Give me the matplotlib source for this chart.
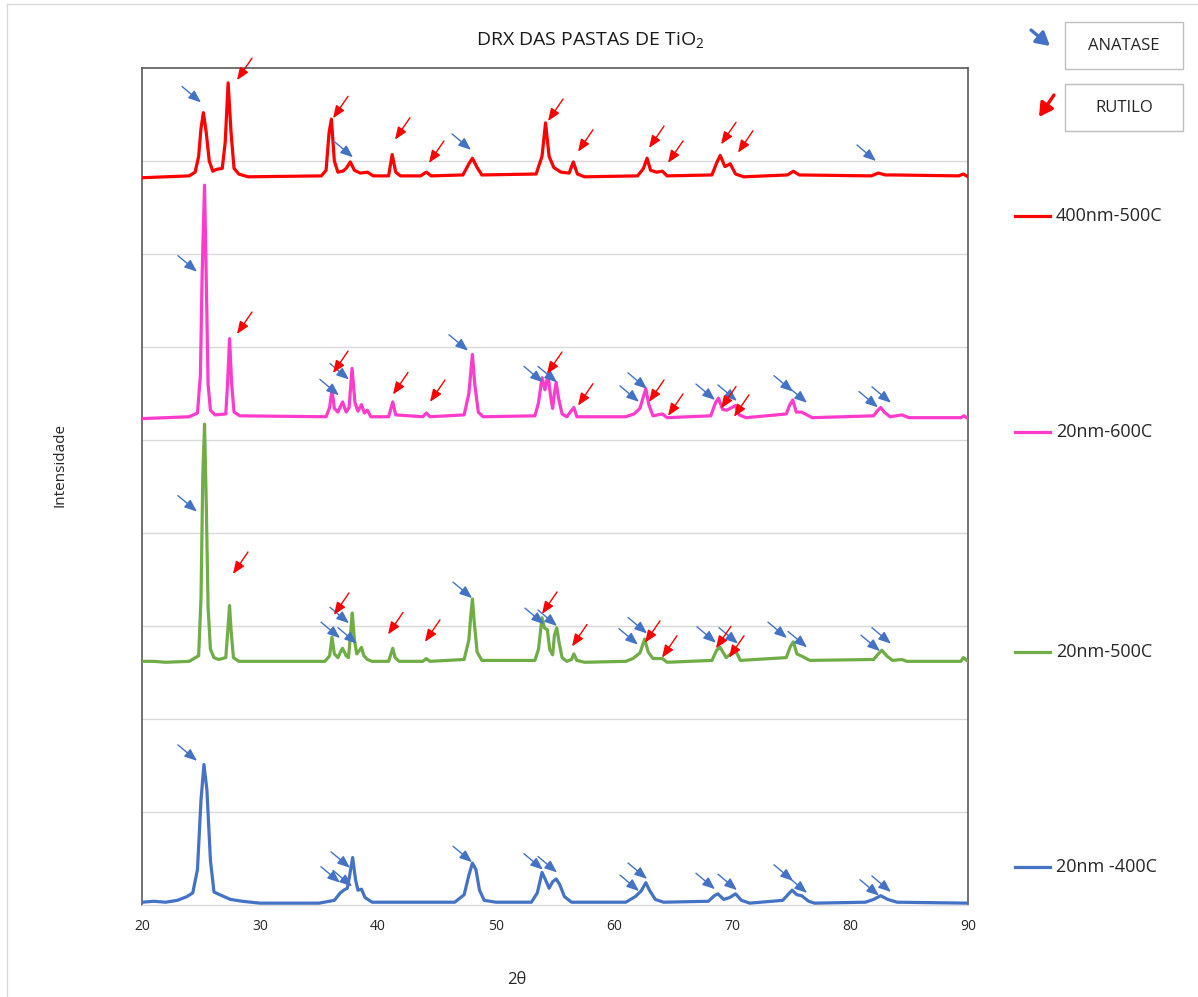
import matplotlib
matplotlib.use("Agg")
import matplotlib.pyplot as plt
from matplotlib.patches import Rectangle, FancyArrowPatch
from matplotlib.lines import Line2D

plt.rcParams['font.family'] = ['Open Sans', 'DejaVu Sans']
plt.rcParams['mathtext.default'] = 'regular'

# ---------------------------------------------------------------
# Diffractograms (2θ in degrees, intensity in a.u. x 10^3, stacked)
# ---------------------------------------------------------------
tt_400nm_500c = [20.0, 22.0, 24.0, 24.5, 24.8, 25.0, 25.2, 25.45, 25.7, 26.0, 26.3, 26.8,
                 27.05, 27.3, 27.55, 27.8, 28.2, 29.0, 35.2, 35.6, 35.85, 36.05, 36.3, 36.6,
                 37.0, 37.3, 37.65, 38.0, 38.5, 39.1, 39.6, 40.9, 41.2, 41.5, 41.9, 43.6,
                 44.1, 44.5, 47.2, 47.7, 48.0, 48.4, 48.8, 53.4, 53.9, 54.2, 54.5, 54.9,
                 55.5, 56.2, 56.55, 56.9, 57.5, 62.0, 62.5, 62.8, 63.1, 63.6, 64.1, 64.5,
                 68.3, 68.7, 69.0, 69.4, 69.85, 70.3, 71.0, 74.7, 75.2, 75.7, 81.8, 82.4,
                 83.0, 83.6, 89.2, 89.6, 90.0]
int_400nm_500c = [7.82, 7.83, 7.84, 7.88, 8.05, 8.35, 8.52, 8.30, 8.00, 7.89, 7.91, 7.92,
                  8.20, 8.84, 8.30, 7.92, 7.86, 7.83, 7.84, 7.90, 8.30, 8.45, 8.00, 7.88,
                  7.89, 7.92, 7.99, 7.90, 7.87, 7.88, 7.84, 7.84, 8.07, 7.88, 7.84, 7.84,
                  7.88, 7.84, 7.85, 7.97, 8.03, 7.93, 7.85, 7.86, 8.05, 8.41, 8.05, 7.93,
                  7.88, 7.87, 7.99, 7.86, 7.83, 7.84, 7.92, 8.03, 7.90, 7.88, 7.89, 7.84,
                  7.85, 7.98, 8.06, 7.94, 7.97, 7.86, 7.83, 7.85, 7.89, 7.85, 7.84, 7.87,
                  7.85, 7.85, 7.84, 7.86, 7.83]

tt_20nm_600c = [20.0, 22.0, 24.0, 24.7, 24.95, 25.1, 25.3, 25.45, 25.6, 25.8, 26.2, 27.1,
                27.25, 27.42, 27.6, 27.8, 28.3, 35.6, 35.9, 36.1, 36.3, 36.6, 37.0, 37.3,
                37.55, 37.8, 38.05, 38.3, 38.6, 38.85, 39.1, 39.4, 40.9, 41.25, 41.5, 43.8,
                44.1, 44.4, 47.3, 47.7, 48.0, 48.2, 48.5, 48.9, 53.3, 53.6, 53.9, 54.15,
                54.4, 54.65, 54.8, 54.95, 55.1, 55.3, 55.6, 56.0, 56.6, 56.85, 61.0, 61.7,
                62.2, 62.45, 62.7, 62.95, 63.3, 64.1, 64.5, 68.2, 68.6, 68.85, 69.2, 69.55,
                70.3, 70.6, 71.2, 74.6, 74.9, 75.15, 75.45, 75.9, 76.2, 76.8, 82.0, 82.3,
                82.6, 82.9, 83.4, 84.4, 85.0, 89.4, 89.65, 90.0]
int_20nm_600c = [5.23, 5.24, 5.25, 5.29, 5.70, 6.80, 7.74, 6.70, 5.60, 5.32, 5.27, 5.28,
                 5.60, 6.09, 5.60, 5.30, 5.26, 5.25, 5.35, 5.54, 5.34, 5.30, 5.41, 5.30,
                 5.35, 5.77, 5.40, 5.31, 5.38, 5.29, 5.32, 5.25, 5.25, 5.41, 5.27, 5.25,
                 5.29, 5.25, 5.27, 5.50, 5.92, 5.60, 5.30, 5.25, 5.26, 5.40, 5.67, 5.54,
                 5.70, 5.45, 5.34, 5.50, 5.62, 5.45, 5.28, 5.25, 5.35, 5.25, 5.25, 5.28,
                 5.34, 5.45, 5.55, 5.38, 5.26, 5.28, 5.24, 5.26, 5.40, 5.45, 5.33, 5.32,
                 5.37, 5.27, 5.24, 5.28, 5.38, 5.43, 5.30, 5.30, 5.28, 5.24, 5.26, 5.31,
                 5.35, 5.30, 5.25, 5.27, 5.24, 5.24, 5.26, 5.23]

tt_20nm_500c = [20.0, 21.0, 22.0, 24.0, 24.8, 25.0, 25.15, 25.3, 25.45, 25.6, 25.8, 26.1,
                26.5, 27.1, 27.3, 27.42, 27.55, 27.75, 28.2, 35.5, 35.9, 36.1, 36.3, 36.6,
                36.9, 37.0, 37.3, 37.5, 37.7, 37.82, 38.0, 38.2, 38.5, 38.6, 38.8, 39.1,
                39.5, 40.9, 41.1, 41.25, 41.45, 41.8, 43.8, 44.1, 44.4, 47.3, 47.7, 47.85,
                48.0, 48.15, 48.4, 48.8, 53.3, 53.6, 53.9, 54.1, 54.35, 54.55, 54.8, 54.95,
                55.15, 55.35, 55.6, 56.0, 56.4, 56.6, 56.85, 57.5, 61.0, 61.6, 62.2, 62.6,
                62.9, 63.3, 64.1, 64.5, 68.3, 68.7, 69.0, 69.5, 70.3, 70.7, 74.6, 74.95,
                75.2, 75.5, 76.0, 76.6, 82.0, 82.4, 82.7, 83.1, 83.6, 84.4, 84.8, 89.4,
                89.6, 90.0]
int_20nm_500c = [2.62, 2.62, 2.61, 2.62, 2.68, 3.30, 4.60, 5.17, 4.30, 3.20, 2.75, 2.66,
                 2.64, 2.66, 3.00, 3.22, 2.95, 2.66, 2.62, 2.62, 2.68, 2.88, 2.70, 2.66,
                 2.74, 2.76, 2.68, 2.66, 2.95, 3.14, 2.85, 2.70, 2.75, 2.77, 2.68, 2.64,
                 2.62, 2.62, 2.70, 2.76, 2.66, 2.62, 2.62, 2.65, 2.62, 2.64, 2.85, 3.09,
                 3.29, 3.05, 2.72, 2.63, 2.63, 2.75, 3.09, 2.98, 2.96, 2.75, 2.69, 2.90,
                 2.98, 2.82, 2.66, 2.62, 2.64, 2.70, 2.63, 2.61, 2.62, 2.65, 2.71, 2.86,
                 2.72, 2.65, 2.65, 2.61, 2.63, 2.74, 2.77, 2.66, 2.74, 2.63, 2.66, 2.78,
                 2.83, 2.70, 2.67, 2.63, 2.64, 2.70, 2.74, 2.68, 2.63, 2.64, 2.62, 2.62,
                 2.66, 2.62]

tt_20nm_400c = [20.0, 21.0, 22.0, 23.0, 23.8, 24.3, 24.7, 25.0, 25.25, 25.5, 25.8, 26.1,
                26.6, 27.5, 28.5, 30.0, 35.0, 36.3, 36.8, 37.1, 37.4, 37.6, 37.85, 38.1,
                38.3, 38.6, 38.9, 39.5, 46.5, 47.3, 47.7, 48.0, 48.3, 48.6, 49.0, 50.0,
                53.0, 53.5, 53.9, 54.2, 54.5, 54.8, 55.1, 55.4, 55.8, 56.4, 61.0, 61.8,
                62.3, 62.7, 63.0, 63.5, 64.2, 68.0, 68.5, 68.8, 69.3, 69.8, 70.3, 70.8,
                71.5, 74.3, 74.8, 75.1, 75.5, 75.9, 76.5, 77.0, 81.3, 82.0, 82.6, 83.2,
                84.0, 90.0]
int_20nm_400c = [0.03, 0.04, 0.03, 0.05, 0.09, 0.13, 0.38, 1.13, 1.51, 1.24, 0.48, 0.14,
                 0.11, 0.06, 0.04, 0.02, 0.02, 0.05, 0.13, 0.16, 0.18, 0.32, 0.51, 0.27,
                 0.16, 0.17, 0.08, 0.03, 0.03, 0.11, 0.32, 0.45, 0.38, 0.16, 0.05, 0.03,
                 0.03, 0.13, 0.35, 0.27, 0.18, 0.25, 0.28, 0.22, 0.09, 0.03, 0.03, 0.09,
                 0.15, 0.24, 0.16, 0.06, 0.03, 0.04, 0.10, 0.12, 0.06, 0.08, 0.12, 0.05,
                 0.02, 0.05, 0.12, 0.16, 0.11, 0.10, 0.04, 0.02, 0.03, 0.06, 0.10, 0.06,
                 0.03, 0.02]

# ---------------------------------------------------------------
# Phase identification marks (2θ, intensity at arrow tip)
# ---------------------------------------------------------------
anatase_400nm_500c = [(25.0, 8.63), (37.88, 8.04), (47.88, 8.12), (82.20, 8.00)]
rutile_400nm_500c = [(28.05, 8.87), (36.19, 8.46), (41.44, 8.23), (44.32, 7.98),
                     (54.41, 8.43), (56.95, 8.10), (62.97, 8.14), (64.58, 7.98),
                     (69.07, 8.18), (70.51, 8.09)]

anatase_20nm_600c = [(24.66, 6.81), (37.54, 5.65), (36.69, 5.48), (47.63, 5.96),
                     (53.98, 5.62), (55.17, 5.62), (62.12, 5.41), (62.80, 5.55),
                     (68.56, 5.43), (70.42, 5.42), (75.17, 5.52), (76.36, 5.40),
                     (82.37, 5.35), (83.47, 5.40)]
rutile_20nm_600c = [(28.05, 6.14), (36.19, 5.72), (41.27, 5.49), (44.41, 5.41),
                    (54.32, 5.71), (56.95, 5.37), (62.97, 5.41), (64.58, 5.26),
                    (69.07, 5.34), (70.17, 5.25)]

anatase_20nm_500c = [(24.66, 4.23), (37.54, 3.03), (36.78, 2.87), (38.22, 2.81),
                     (47.97, 3.30), (54.07, 3.02), (55.17, 3.00), (62.03, 2.80),
                     (62.80, 2.92), (68.64, 2.82), (70.51, 2.81), (74.66, 2.87),
                     (76.36, 2.77), (82.54, 2.73), (83.47, 2.81)]
rutile_20nm_500c = [(27.71, 3.56), (36.27, 3.12), (40.85, 2.91), (43.98, 2.83),
                    (53.90, 3.13), (56.44, 2.78), (62.63, 2.82), (64.07, 2.66),
                    (68.64, 2.76), (69.75, 2.66)]

anatase_20nm_400c = [(24.66, 1.55), (36.78, 0.24), (37.80, 0.20), (37.63, 0.40),
                     (47.97, 0.46), (53.98, 0.38), (55.17, 0.35), (62.12, 0.15),
                     (62.80, 0.28), (68.56, 0.17), (70.42, 0.16), (75.17, 0.26),
                     (76.36, 0.13), (82.46, 0.10), (83.47, 0.14)]
rutile_20nm_400c = []

series_labels = ["400nm-500C", "20nm-600C", "20nm-500C", "20nm -400C"]
series_colors = ["#FF0000", "#FF3BCB", "#70AD47", "#4472C4"]
series_x = [tt_400nm_500c, tt_20nm_600c, tt_20nm_500c, tt_20nm_400c]
series_y = [int_400nm_500c, int_20nm_600c, int_20nm_500c, int_20nm_400c]
anatase_marks = [anatase_400nm_500c, anatase_20nm_600c, anatase_20nm_500c, anatase_20nm_400c]
rutile_marks = [rutile_400nm_500c, rutile_20nm_600c, rutile_20nm_500c, rutile_20nm_400c]

x_ticks = [20, 30, 40, 50, 60, 70, 80, 90]

ANATASE_COLOR = "#4472C4"
RUTILE_COLOR = "#FF0000"
TEXT_COLOR = "#262626"

W, H = 1198, 997
fig = plt.figure(figsize=(W / 100, H / 100), dpi=100)
fig.patch.set_facecolor("white")

ax = fig.add_axes([142 / W, 1 - 905 / H, (968 - 142) / W, (905 - 68) / H])
ax.set_xlim(20, 90)
ax.set_ylim(0, 9)
ax.set_xticks(x_ticks)
ax.set_xticklabels([str(t) for t in x_ticks], fontsize=10, color=TEXT_COLOR)
ax.set_yticks(range(1, 9))
ax.set_yticklabels([])
ax.tick_params(axis="x", length=0, pad=10)
ax.tick_params(axis="y", length=0, pad=0)
ax.grid(axis="y", color="#d9d9d9", lw=1.0)
ax.set_axisbelow(True)
for side in ("left", "top", "right"):
    ax.spines[side].set_color("#595959")
    ax.spines[side].set_linewidth(1.2)
ax.spines["bottom"].set_color("#d9d9d9")
ax.spines["bottom"].set_linewidth(1.0)

for xs, ys, col in zip(series_x, series_y, series_colors):
    ax.plot(xs, ys, color=col, lw=2.3, solid_joinstyle="round", zorder=3)

# phase arrows: anatase points down-right, rutile down-left
A_OFF = (-13.7, 11.5)
R_OFF = (10.8, 15.8)


def mark(target, offset, color):
    ax.annotate("", xy=target, xytext=offset, textcoords="offset points",
                arrowprops=dict(arrowstyle="-|>,head_length=0.75,head_width=0.3",
                                mutation_scale=10, color=color, lw=1.0,
                                shrinkA=0, shrinkB=0),
                zorder=5)


for amarks, rmarks in zip(anatase_marks, rutile_marks):
    for p in amarks:
        mark(p, A_OFF, ANATASE_COLOR)
    for p in rmarks:
        mark(p, R_OFF, RUTILE_COLOR)

fig.text(517 / W, 1 - 980 / H, "2θ", ha="center", va="center", fontsize=12,
         color=TEXT_COLOR)
fig.text(60 / W, 1 - 465 / H, "Intensidade", ha="center", va="center", fontsize=11,
         rotation=90, color=TEXT_COLOR)

fig.text(590 / W, 1 - 40 / H, "DRX DAS PASTAS DE TiO$_2$", ha="center", va="center",
         fontsize=14, color="#1a1a1a")

# series legend on the right
legend_rows = [216, 432, 652, 867]
for row, lab, col in zip(legend_rows, series_labels, series_colors):
    yy = 1 - row / H
    fig.add_artist(Line2D([1015 / W, 1050 / W], [yy, yy], color=col, lw=2.3,
                          transform=fig.transFigure))
    fig.text(1056 / W, yy, lab, ha="left", va="center", fontsize=13, color=TEXT_COLOR)

# phase key boxes
for top, label, color, tail, head in [
        (22, "ANATASE", ANATASE_COLOR, (1031, 30), (1050, 46)),
        (84, "RUTILO", RUTILE_COLOR, (1054, 95), (1039, 117))]:
    fig.add_artist(Rectangle((1065 / W, 1 - (top + 47) / H), 118 / W, 47 / H,
                             transform=fig.transFigure, facecolor="white",
                             edgecolor="#bfbfbf", lw=1.0))
    fig.text(1124 / W, 1 - (top + 24) / H, label, ha="center", va="center",
             fontsize=12, color=TEXT_COLOR)
    fig.add_artist(FancyArrowPatch(
        (tail[0] / W, 1 - tail[1] / H), (head[0] / W, 1 - head[1] / H),
        transform=fig.transFigure,
        arrowstyle="-|>,head_length=0.8,head_width=0.45", mutation_scale=10,
        color=color, lw=2.4, shrinkA=0, shrinkB=0))

# chart area frame
fig.add_artist(Line2D([7 / W, 7 / W], [0, 1 - 4 / H], color="#d9d9d9", lw=1.0,
                      transform=fig.transFigure))
fig.add_artist(Line2D([7 / W, 1], [1 - 4 / H, 1 - 4 / H], color="#d9d9d9", lw=1.0,
                      transform=fig.transFigure))

fig.savefig("out.png", dpi=100, facecolor="white")
